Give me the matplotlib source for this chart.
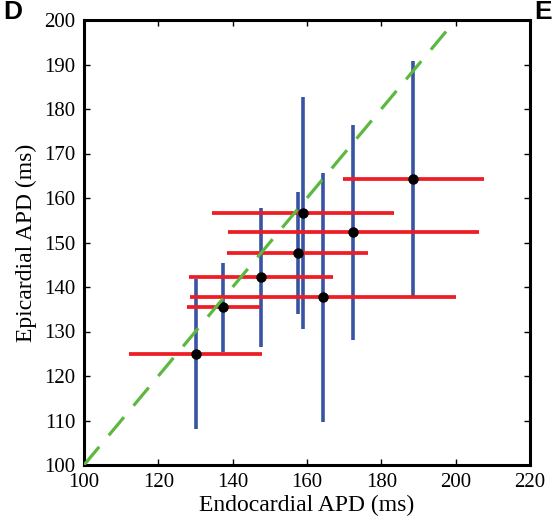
import matplotlib
matplotlib.use("Agg")
import matplotlib.pyplot as plt

# Mean APD (ms) per site and its spread
endo_mean = [130.0, 137.5, 147.7, 157.5, 159.0, 164.4, 172.5, 188.6]
endo_sd = [17.8, 9.8, 19.4, 19.0, 24.5, 35.8, 33.7, 18.9]
epi_mean = [125.0, 135.4, 142.2, 147.6, 156.6, 137.7, 152.3, 164.3]
epi_sd = [16.9, 10.1, 15.6, 13.7, 26.1, 28.0, 24.1, 26.4]

identity = [100, 200]

plt.rcParams["font.family"] = ["Liberation Serif", "DejaVu Serif"]

fig = plt.figure(figsize=(5.54, 5.30), dpi=100)
ax = fig.add_axes([84 / 554, 1 - 465 / 530, 446 / 554, 445 / 530])

# vertical (epicardial) spread in blue
ax.errorbar(endo_mean, epi_mean, yerr=epi_sd, fmt="none",
            ecolor="#3953a4", elinewidth=2.6, capsize=0, zorder=2)
# horizontal (endocardial) spread in red
ax.errorbar(endo_mean, epi_mean, xerr=endo_sd, fmt="none",
            ecolor="#ee1c24", elinewidth=2.7, capsize=0, zorder=3)
ax.plot(endo_mean, epi_mean, "o", color="black", markersize=6.5, zorder=4)

# line of identity
ax.plot(identity, identity, color="#5cb83e", linewidth=2.3,
        dashes=(7.4, 4.7), zorder=5)

ax.set_xlim(100, 220)
ax.set_ylim(100, 200)
ax.set_xticks(range(100, 221, 20))
ax.set_yticks(range(100, 201, 10))
ax.tick_params(direction="in", top=True, right=True, length=4, width=1,
               labelsize=15, pad=6)
for s in ax.spines.values():
    s.set_linewidth(2.2)

ax.set_xlabel("Endocardial APD (ms)", fontsize=17, labelpad=2)
ax.set_ylabel("Epicardial APD (ms)", fontsize=17, labelpad=5)

# panel letters
fig.text(3 / 554, 1 - 19 / 530, "D", fontsize=19, fontweight="bold",
         family="Liberation Sans", va="baseline", ha="left")
fig.text(552 / 554, 1 - 19 / 530, "E", fontsize=19, fontweight="bold",
         family="Liberation Sans", va="baseline", ha="right")

fig.savefig("out.png", dpi=100)
